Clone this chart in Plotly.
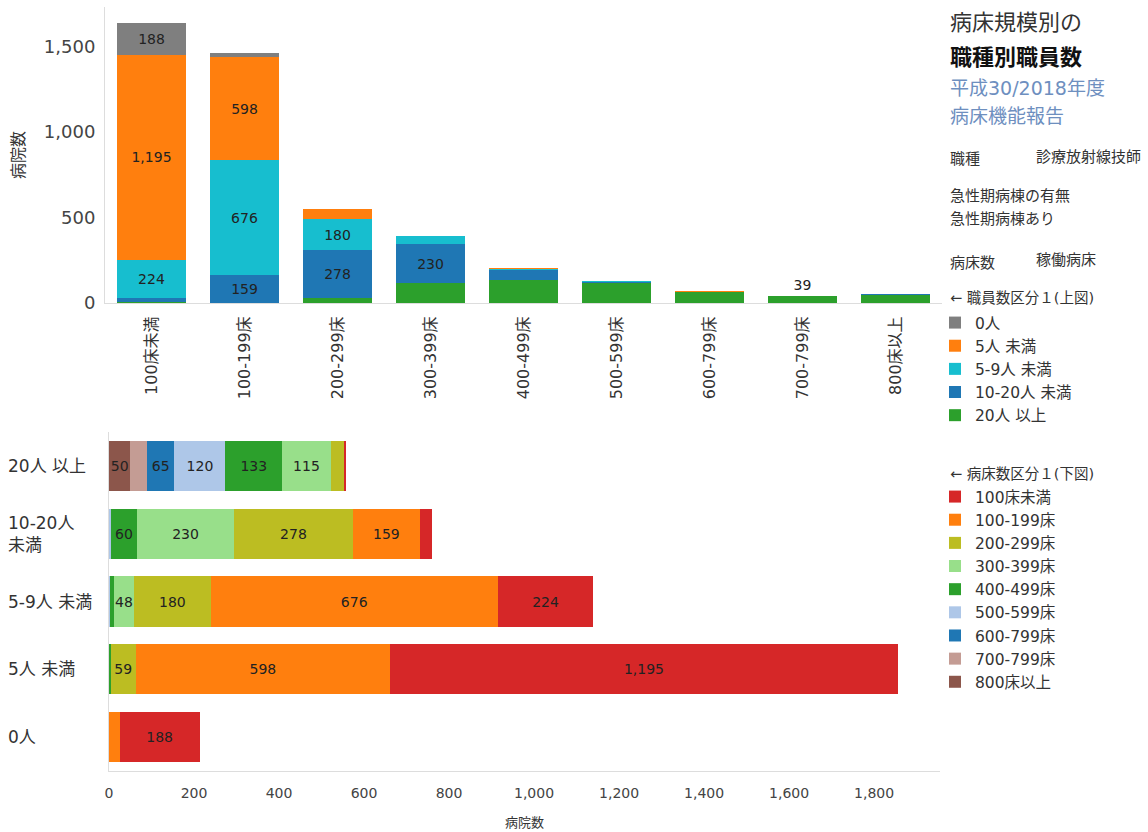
import plotly.graph_objects as go

W, H = 1148, 832

beds = ["100床未満", "100-199床", "200-299床", "300-399床", "400-499床",
        "500-599床", "600-799床", "700-799床", "800床以上"]
staff = ["0人", "5人 未満", "5-9人 未満", "10-20人 未満", "20人 以上"]
staff_ticktext = ["0人", "5人 未満", "5-9人 未満", "10-20人<br>未満", "20人 以上"]

# 病院数 (rows: 職員数区分, cols: 病床数区分)
n_0 = [188, 25, 0, 0, 0, 0, 0, 0, 0]
n_lt5 = [1195, 598, 59, 0, 2, 0, 2, 0, 0]
n_5_9 = [224, 676, 180, 48, 8, 3, 0, 0, 0]
n_10_20 = [27, 159, 278, 230, 60, 3, 0, 0, 2]
n_20 = [3, 2, 31, 115, 133, 120, 65, 39, 50]
counts = [n_0, n_lt5, n_5_9, n_10_20, n_20]

# which segments carry a value label
top_show = [
    [1, 0, 0, 0, 0, 0, 0, 0, 0],
    [1, 1, 0, 0, 0, 0, 0, 0, 0],
    [1, 1, 1, 0, 0, 0, 0, 0, 0],
    [0, 1, 1, 1, 0, 0, 0, 0, 0],
    [0, 0, 0, 0, 0, 0, 0, 1, 0],
]
bottom_show = [
    [1, 0, 0, 0, 0, 0, 0, 0, 0],
    [1, 1, 1, 0, 0, 0, 0, 0, 0],
    [1, 1, 1, 1, 0, 0, 0, 0, 0],
    [0, 1, 1, 1, 1, 0, 0, 0, 0],
    [0, 0, 0, 1, 1, 1, 1, 0, 1],
]

staff_colors = ["#7f7f7f", "#ff7f0e", "#17becf", "#1f77b4", "#2ca02c"]
bed_colors = ["#d62728", "#ff7f0e", "#bcbd22", "#98df8a", "#2ca02c",
              "#aec7e8", "#1f77b4", "#c49c94", "#8c564b"]

FONT = "DejaVu Sans, Noto Sans CJK JP, sans-serif"
LABEL_FONT = dict(family=FONT, size=14, color="#222")


def px_x(p):
    return p / W


def px_y(p):
    return 1 - p / H


fig = go.Figure()

# ---- 上図: 病床数区分ごとの職員数区分（縦積み）
for i in reversed(range(len(staff))):
    vals = [v if v else None for v in counts[i]]
    text = [f"{v:,}" if s else "" for v, s in zip(counts[i], top_show[i])]
    pos = ["outside" if (s and i == 4) else "inside" for s in top_show[i]]
    fig.add_trace(go.Bar(
        x=beds, y=vals, name=staff[i], marker_color=staff_colors[i],
        marker_line_width=0, text=text, textposition=pos, textangle=0,
        insidetextanchor="middle", textfont=LABEL_FONT, cliponaxis=False,
        xaxis="x", yaxis="y", legend="legend", hoverinfo="skip",
    ))

# ---- 下図: 職員数区分ごとの病床数区分（横積み）
for j in reversed(range(len(beds))):
    vals = [counts[i][j] if counts[i][j] else None for i in range(len(staff))]
    text = [f"{counts[i][j]:,}" if bottom_show[i][j] else "" for i in range(len(staff))]
    fig.add_trace(go.Bar(
        y=staff, x=vals, orientation="h", name=beds[j],
        marker_color=bed_colors[j], marker_line_width=0,
        text=text, textposition="inside", textangle=0,
        insidetextanchor="middle", textfont=LABEL_FONT,
        xaxis="x2", yaxis="y2", legend="legend2", hoverinfo="skip",
    ))

annotations = []
for cat, lab in zip(staff, staff_ticktext):
    annotations.append(dict(
        x=px_x(6), xref="paper", y=cat, yref="y2", text=lab,
        xanchor="left", yanchor="middle", align="left", showarrow=False,
        font=dict(family=FONT, size=17, color="#333"),
    ))

side_texts = [
    ("病床規模別の", 948, 22, 22, "#333"),
    ("<b>職種別職員数</b>", 948, 58, 22, "#111"),
    ("平成30/2018年度", 948, 88, 19, "#6e8fbf"),
    ("病床機能報告", 948, 116, 19, "#6e8fbf"),
    ("職種", 948, 159, 15, "#333"),
    ("診療放射線技師", 1034, 157, 15, "#333"),
    ("急性期病棟の有無", 948, 196, 15, "#333"),
    ("急性期病棟あり", 948, 219, 15, "#333"),
    ("病床数", 948, 263, 15, "#333"),
    ("稼働病床", 1034, 260, 15, "#333"),
    ("← 職員数区分１(上図)", 948, 298, 14.5, "#333"),
    ("← 病床数区分１(下図)", 948, 474, 14.5, "#333"),
]
for txt, x, y, size, color in side_texts:
    annotations.append(dict(
        x=px_x(x), y=px_y(y), xref="paper", yref="paper", text=txt,
        xanchor="left", yanchor="middle", showarrow=False,
        font=dict(family=FONT, size=size, color=color),
    ))

fig.update_layout(
    width=W, height=H,
    margin=dict(l=0, r=0, t=0, b=0),
    paper_bgcolor="white", plot_bgcolor="white",
    font=dict(family=FONT, color="#333"),
    barmode="stack",
    uniformtext=dict(minsize=13, mode="show"),
    xaxis=dict(
        domain=[px_x(105), px_x(942)], anchor="y", automargin=False,
        tickangle=-90, tickfont=dict(size=16, color="#333"),
        ticklabelstandoff=6,
        showline=True, linecolor="#dddddd", ticks="", showgrid=False,
        categoryorder="array", categoryarray=beds,
    ),
    yaxis=dict(
        domain=[px_y(303), px_y(7)], anchor="x", automargin=False,
        range=[0, 1730], dtick=500, tickformat=",d",
        tickfont=dict(size=18, color="#444"), ticklabelstandoff=5,
        title=dict(text="病院数", font=dict(size=16, color="#333")),
        showline=True, linecolor="#dddddd", ticks="", showgrid=False,
        zeroline=False,
    ),
    xaxis2=dict(
        domain=[px_x(109), px_x(940)], anchor="y2", automargin=False,
        range=[0, 1955], dtick=200, tickformat=",d",
        tickfont=dict(size=14, color="#444"), ticklabelstandoff=9,
        title=dict(text="病院数", font=dict(size=13, color="#333"), standoff=18),
        showline=True, linecolor="#dddddd", ticks="", showgrid=False,
        zeroline=False,
    ),
    yaxis2=dict(
        domain=[px_y(771), px_y(432)], anchor="x2", automargin=False,
        categoryorder="array", categoryarray=staff,
        showticklabels=False, showline=True, linecolor="#dddddd",
        ticks="", showgrid=False,
    ),
    bargap=0.26,
    legend=dict(
        x=px_x(935), y=px_y(306), xanchor="left", yanchor="top",
        traceorder="reversed",
        font=dict(size=15.5, color="#333"), itemclick=False,
        bgcolor="rgba(0,0,0,0)",
    ),
    legend2=dict(
        x=px_x(935), y=px_y(480), xanchor="left", yanchor="top",
        traceorder="reversed",
        font=dict(size=15.5, color="#333"), itemclick=False,
        bgcolor="rgba(0,0,0,0)",
    ),
    annotations=annotations,
)

fig.write_html(
    "out.html",
    config={"displayModeBar": False},
    post_script="document.body.style.margin='0';document.body.style.overflow='hidden';",
)
